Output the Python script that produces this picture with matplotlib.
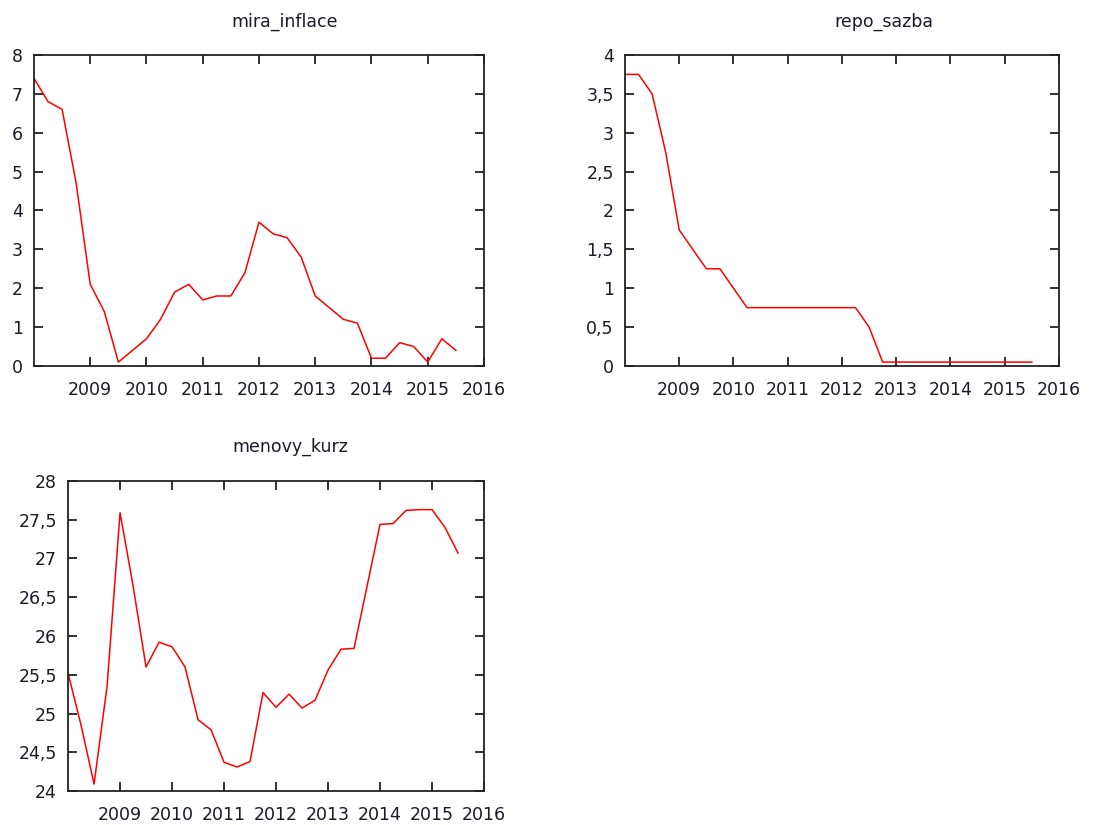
import numpy as np
import matplotlib
matplotlib.use("Agg")
import matplotlib.pyplot as plt
from matplotlib.ticker import FuncFormatter

# quarterly observations, 2008Q1 .. 2015Q3
quarters = np.arange(2008.0, 2015.75, 0.25)

mira_inflace = [7.4, 6.8, 6.6, 4.7, 2.1, 1.4, 0.1, 0.4,
                0.7, 1.2, 1.9, 2.1, 1.7, 1.8, 1.8, 2.4,
                3.7, 3.4, 3.3, 2.8, 1.8, 1.5, 1.2, 1.1,
                0.2, 0.2, 0.6, 0.5, 0.1, 0.7, 0.4]

repo_sazba = [3.75, 3.75, 3.5, 2.75, 1.75, 1.5, 1.25, 1.25,
              1.0, 0.75, 0.75, 0.75, 0.75, 0.75, 0.75, 0.75,
              0.75, 0.75, 0.5, 0.05, 0.05, 0.05, 0.05, 0.05,
              0.05, 0.05, 0.05, 0.05, 0.05, 0.05, 0.05]

menovy_kurz = [25.52, 24.85, 24.09, 25.35, 27.59, 26.65, 25.60, 25.92,
               25.86, 25.60, 24.92, 24.79, 24.37, 24.31, 24.38, 25.27,
               25.08, 25.25, 25.07, 25.17, 25.56, 25.83, 25.84, 26.64,
               27.44, 27.45, 27.62, 27.63, 27.63, 27.40, 27.07]

year_ticks = list(range(2009, 2017))

FONT = 12.5
TXT = "#1a1a2a"


def comma_fmt(v, pos):
    return f"{v:g}".replace(".", ",")


def draw_panel(ax, y, ylim, yticks):
    ax.plot(quarters, y, color="#ff0000", linewidth=1.1)
    ax.set_xlim(2008, 2016)
    ax.set_ylim(*ylim)
    ax.set_xticks(year_ticks)
    ax.set_yticks(yticks)
    ax.yaxis.set_major_formatter(FuncFormatter(comma_fmt))
    ax.tick_params(direction="in", top=True, right=True, length=6.5,
                   width=1.3, labelsize=FONT, colors="#222222",
                   labelcolor=TXT)
    ax.tick_params(axis="x", pad=11)
    ax.tick_params(axis="y", pad=8)
    for sp in ax.spines.values():
        sp.set_linewidth(1.3)
        sp.set_color("#222222")


fig = plt.figure(figsize=(11.03, 8.25), dpi=100)

ax1 = fig.add_axes([0.0308, 0.5564, 0.4080, 0.3770])
draw_panel(ax1, mira_inflace, (0, 8), range(0, 9))

ax2 = fig.add_axes([0.5666, 0.5564, 0.3935, 0.3770])
draw_panel(ax2, repo_sazba, (0, 4), np.arange(0, 4.01, 0.5))

ax3 = fig.add_axes([0.0617, 0.0412, 0.3771, 0.3758])
draw_panel(ax3, menovy_kurz, (24, 28), np.arange(24, 28.01, 0.5))

fig.text(285 / 1103, 1 - 22 / 825, "mira_inflace", ha="center", va="center",
         fontsize=FONT, color=TXT)
fig.text(884 / 1103, 1 - 22 / 825, "repo_sazba", ha="center", va="center",
         fontsize=FONT, color=TXT)
fig.text(290 / 1103, 1 - 447 / 825, "menovy_kurz", ha="center", va="center",
         fontsize=FONT, color=TXT)

fig.savefig("out.png", dpi=100)
